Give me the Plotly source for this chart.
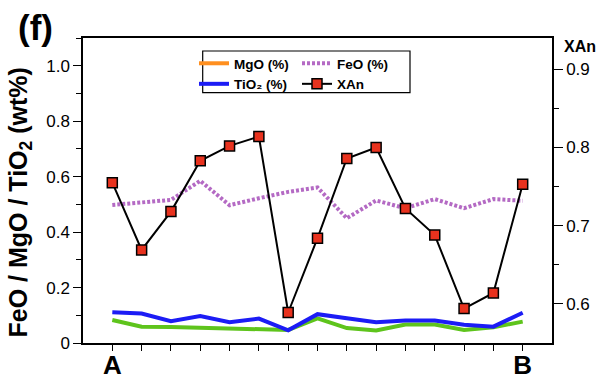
import plotly.graph_objects as go

# Sample positions along the traverse A -> B
positions = list(range(15))
tick_labels = ["A"] + [""] * 13 + ["B"]

# Oxide contents (wt%) on the left axis
mgo = [0.083, 0.059, 0.058, 0.055, 0.050, 0.047, 0.047, 0.089, 0.054, 0.045, 0.067, 0.067, 0.047, 0.057, 0.077]
tio2 = [0.111, 0.106, 0.079, 0.097, 0.075, 0.088, 0.046, 0.104, 0.089, 0.075, 0.081, 0.081, 0.066, 0.059, 0.109]
feo = [0.498, 0.506, 0.516, 0.585, 0.497, 0.522, 0.545, 0.561, 0.450, 0.514, 0.486, 0.519, 0.486, 0.519, 0.513]

# Anorthite fraction on the right axis
xan = [0.755, 0.669, 0.718, 0.783, 0.802, 0.814, 0.589, 0.684, 0.786, 0.800, 0.722, 0.688, 0.594, 0.614, 0.753]

W, H = 608, 382
L, R, T, B = 83, 56, 38, 39
pw, ph = W - L - R, H - T - B


def px(x):
    return (x - L) / pw


def py(y):
    return (H - B - y) / ph


FONT = "Arial, Liberation Sans, Helvetica, sans-serif"
GREEN = "#5ec41c"
BLUE = "#1c1cf5"
PURPLE = "#b46ac4"
ORANGE = "#ff8f1f"
RED = "#e8321e"

fig = go.Figure()

# legend swatch for MgO
fig.add_trace(go.Scatter(x=[None], y=[None], mode="lines", name="MgO (%)",
                         line=dict(color=ORANGE, width=4), legend="legend"))
fig.add_trace(go.Scatter(x=positions, y=mgo, mode="lines", name="MgO (%)",
                         line=dict(color=GREEN, width=4), showlegend=False))
fig.add_trace(go.Scatter(x=positions, y=tio2, mode="lines", name="TiO₂ (%)",
                         line=dict(color=BLUE, width=4), legend="legend"))
fig.add_trace(go.Scatter(x=positions, y=feo, mode="lines", name="FeO (%)",
                         line=dict(color=PURPLE, width=4, dash="3px,2px"), legend="legend2"))
fig.add_trace(go.Scatter(x=positions, y=xan, mode="lines+markers", name="XAn", yaxis="y2",
                         line=dict(color="black", width=2),
                         marker=dict(symbol="square", size=10, color=RED,
                                     line=dict(color="black", width=1.5)),
                         legend="legend2"))

axis_font = dict(family=FONT, size=17, color="black")
legend_font = dict(family=FONT, size=13.5, color="black", weight="bold")

fig.update_layout(
    width=W, height=H,
    margin=dict(l=L, r=R, t=T, b=B, autoexpand=False),
    paper_bgcolor="white", plot_bgcolor="white",
    font=dict(family=FONT, color="black"),
    xaxis=dict(range=[-1, 15], tickvals=positions, ticktext=tick_labels,
               ticks="outside", ticklen=6, tickwidth=1.2, tickcolor="black",
               ticklabelstandoff=-8,
               showline=True, linecolor="black", linewidth=1.5, mirror=True,
               showgrid=False, zeroline=False, automargin=False,
               tickfont=dict(family=FONT, size=26, color="black", weight="bold")),
    yaxis=dict(range=[0, 1.1], tickvals=[0, 0.2, 0.4, 0.6, 0.8, 1.0],
               ticktext=["0", "0.2", "0.4", "0.6", "0.8", "1.0"],
               ticks="outside", ticklen=8, tickwidth=1.2, tickcolor="black",
               minor=dict(dtick=0.1, ticks="outside", ticklen=5, tickcolor="black", tickwidth=1.2),
               showline=True, linecolor="black", linewidth=1.5, mirror=True,
               showgrid=False, zeroline=False, automargin=False, tickfont=axis_font),
    yaxis2=dict(range=[0.55, 0.94], overlaying="y", side="right",
                tickvals=[0.6, 0.7, 0.8, 0.9], ticktext=["0.6", "0.7", "0.8", "0.9"],
                ticks="outside", ticklen=9, tickwidth=1.2, tickcolor="black",
                minor=dict(tickvals=[0.65, 0.75, 0.85], ticks="outside", ticklen=5,
                           tickcolor="black", tickwidth=1.2),
                showline=True, linecolor="black", linewidth=1.5,
                showgrid=False, zeroline=False, automargin=False, tickfont=axis_font),
    legend=dict(x=px(194), y=py(48), xanchor="left", yanchor="top",
                bgcolor="rgba(0,0,0,0)", borderwidth=0, tracegroupgap=0, font=legend_font),
    legend2=dict(x=px(297), y=py(48), xanchor="left", yanchor="top",
                 bgcolor="rgba(0,0,0,0)", borderwidth=0, tracegroupgap=0, font=legend_font),
    shapes=[dict(type="rect", xref="paper", yref="paper",
                 x0=px(202.7), x1=px(410), y0=py(92.7), y1=py(51),
                 line=dict(color="black", width=1.2))],
    annotations=[
        dict(text="(f)", xref="paper", yref="paper", x=px(35), y=py(28),
             xanchor="center", yanchor="middle", showarrow=False,
             font=dict(family=FONT, size=35, color="black", weight="bold")),
        dict(text="FeO / MgO / TiO<sub>2</sub> (wt%)", xref="paper", yref="paper",
             x=px(19.5), y=py(203), textangle=-90, xanchor="center", yanchor="middle",
             showarrow=False, font=dict(family=FONT, size=25, color="black", weight="bold")),
        dict(text="XAn", xref="paper", yref="paper", x=px(580), y=py(47),
             xanchor="center", yanchor="middle", showarrow=False,
             font=dict(family=FONT, size=16, color="black", weight="bold")),
    ],
)

fig.write_html("out.html")
